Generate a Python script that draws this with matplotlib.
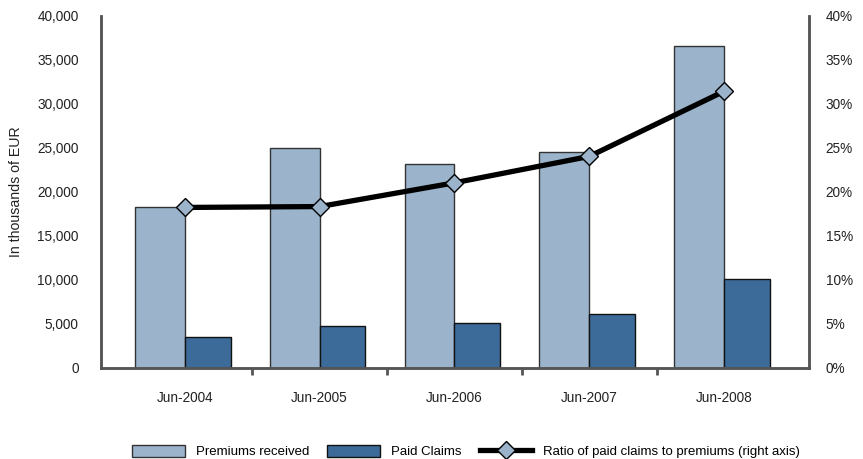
import numpy as np
import matplotlib
matplotlib.use("Agg")
import matplotlib.pyplot as plt
from matplotlib.ticker import FuncFormatter, FixedLocator

plt.rcParams['font.family'] = ['Liberation Sans', 'DejaVu Sans']

# data
periods = ["Jun-2004", "Jun-2005", "Jun-2006", "Jun-2007", "Jun-2008"]
premiums = [18300, 25000, 23100, 24500, 36500]
paid_claims = [3500, 4700, 5050, 6050, 10100]
ratio_pct = [18.2, 18.3, 21.0, 24.0, 31.4]

c_prem = "#9BB4CC"
c_paid = "#3C6B9A"
c_axis = "#555555"

fig = plt.figure(figsize=(8.63, 4.59), dpi=100)
fig.set_facecolor("white")
ax = fig.add_axes([0.117, 0.1993, 0.8204, 0.7665])
ax2 = ax.twinx()

x = np.arange(len(periods))
w_prem = 0.37
w_paid = 0.34
ax.bar(x - w_prem / 2, premiums, w_prem, color=c_prem, edgecolor="#333333",
       linewidth=1.0, label="Premiums received", zorder=2)
ax.bar(x + w_paid / 2, paid_claims, w_paid, color=c_paid, edgecolor="#111111",
       linewidth=1.0, label="Paid Claims", zorder=2)

ax2.plot(x, ratio_pct, color="black", linewidth=3.8, marker="D", markersize=9,
         markerfacecolor=c_prem, markeredgecolor="black", markeredgewidth=1.0,
         label="Ratio of paid claims to premiums (right axis)", zorder=3)

ax.set_xlim(-0.623, 4.631)
ax.set_ylim(0, 40000)
ax2.set_ylim(0, 40)

ax.set_yticks(np.arange(0, 40001, 5000))
ax.yaxis.set_major_formatter(FuncFormatter(lambda v, p: f"{int(v):,}"))
ax2.set_yticks(np.arange(0, 41, 5))
ax2.yaxis.set_major_formatter(FuncFormatter(lambda v, p: f"{int(v)}%"))

ax.set_xticks(x)
ax.set_xticklabels(periods)
ax.xaxis.set_minor_locator(FixedLocator(x[:-1] + 0.5))
ax.tick_params(axis="x", which="major", length=0, pad=17, labelsize=9.8, colors="#222222")
ax.tick_params(axis="x", which="minor", length=5, width=2, color=c_axis, direction="out")
ax.tick_params(axis="y", length=0, pad=16, labelsize=9.8, colors="#222222")
ax2.tick_params(axis="y", length=0, pad=12, labelsize=9.8, colors="#222222")

for a in (ax, ax2):
    a.spines["top"].set_visible(False)
    for s in ("left", "right", "bottom"):
        a.spines[s].set_color(c_axis)
        a.spines[s].set_linewidth(1.8)
ax.set_zorder(ax2.get_zorder() - 1)
ax.patch.set_visible(False)
ax2.patch.set_visible(False)

ax.set_ylabel("In thousands of EUR", fontsize=10.2, color="#222222")
ax.yaxis.set_label_coords(-0.110, 0.5)

h1, l1 = ax.get_legend_handles_labels()
h2, l2 = ax2.get_legend_handles_labels()
fig.legend(h1 + h2, l1 + l2, loc="center", bbox_to_anchor=(0.540, 0.016),
           ncol=3, frameon=False, fontsize=9.5, handlelength=4.0, handleheight=1.0,
           columnspacing=1.4, handletextpad=0.8)

fig.savefig("out.png", dpi=100, facecolor="white")
